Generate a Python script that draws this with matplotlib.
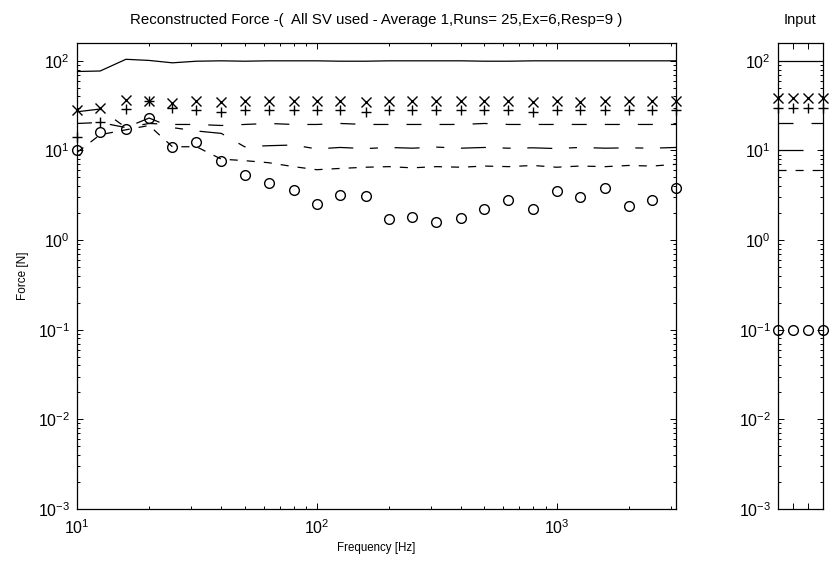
import numpy as np
import matplotlib.pyplot as plt

plt.rcParams['font.family'] = ['Liberation Sans', 'DejaVu Sans']
plt.rcParams['mathtext.default'] = 'regular'
plt.rcParams['lines.scale_dashes'] = False

# 1/3 octave band centre frequencies
freq = [10, 12.5, 16, 20, 25, 31.5, 40, 50, 63, 80, 100, 125, 160, 200, 250,
        315, 400, 500, 630, 800, 1000, 1250, 1600, 2000, 2500, 3150]

# reconstructed force per band [N]
f_solid = [76, 77, 104, 101, 95, 99, 100, 99, 100, 100, 100, 99, 99, 100, 100,
           100, 100, 99, 99, 100, 100, 100, 100, 100, 100, 100]
f_cross = [28, 30, 37, 36, 34, 36, 35, 36, 36, 36, 36, 36, 35, 36, 36,
           36, 36, 36, 36, 35, 36, 35, 36, 36, 36, 36]
f_plus = [14, 21, 29, 36, 30, 28, 27, 28, 28, 28, 28, 28, 27, 28, 28,
          28, 28, 28, 28, 27, 28, 28, 28, 28, 28, 28]
f_dash = [20, 20.5, 18, 20, 19.5, 19.5, 19, 19.5, 20, 19.5, 19.5, 20, 19.5, 19.5, 19.5,
          19.5, 19.5, 20, 19.5, 19.5, 19.5, 19.5, 19.5, 19.5, 19.5, 19.5]
f_dashdot = [27, 29, 18, 23, 18, 16.5, 15.5, 11, 11.3, 11.5, 10.4, 10.8, 10.5, 10.8, 10.6,
             10.9, 10.6, 10.8, 10.6, 10.7, 10.5, 10.8, 10.6, 10.7, 10.6, 10.8]
f_short = [9.5, 15, 17, 19, 11, 11, 8, 7.7, 7.3, 6.6, 6.1, 6.3, 6.5, 6.6, 6.4,
           6.6, 6.5, 6.7, 6.6, 6.8, 6.5, 6.7, 6.6, 6.8, 6.7, 7.0]
f_circle = [10, 16, 17.5, 23, 10.8, 12.3, 7.6, 5.3, 4.3, 3.6, 2.5, 3.2, 3.1, 1.7, 1.8,
            1.6, 1.75, 2.2, 2.8, 2.2, 3.5, 3.0, 3.8, 2.4, 2.8, 3.8]

# applied input levels
inp_x = [1, 2, 3, 4]
inp_solid = [100, 100, 100, 100]
inp_cross = [38, 38, 38, 38]
inp_plus = [30, 30, 30, 30]
inp_dash = [20, 20, 20, 20]
inp_dashdot = [10, 10, 10, 10]
inp_short = [6, 6, 6, 6]
inp_circle = [0.1, 0.1, 0.1, 0.1]

DASH = (0, (10.8, 13))
DASHDOT = (0, (18, 12, 5.8, 12))
SHORT = (0, (5.8, 6.5))
LW = 0.9
YLIM = (1e-3, 158)


def draw(ax, x, solid, cross, plus, dash, dashdot, short, circle):
    ax.plot(x, solid, color='k', lw=LW)
    ax.plot(x, dash, color='k', lw=LW, linestyle=DASH)
    ax.plot(x, dashdot, color='k', lw=LW, linestyle=DASHDOT)
    ax.plot(x, short, color='k', lw=LW, linestyle=SHORT)
    ax.plot(x, cross, 'x', color='k', ms=7, mew=1.0, clip_on=False)
    ax.plot(x, plus, '+', color='k', ms=7, mew=1.0, clip_on=False)
    ax.plot(x, circle, 'o', color='k', mfc='none', ms=7, mew=1.0, clip_on=False)


def style(ax):
    ax.set_yscale('log')
    ax.set_ylim(*YLIM)
    ax.tick_params(which='both', direction='in', top=True, right=True,
                   labelsize=11.5, width=0.7)
    ax.tick_params(which='major', length=4)
    ax.tick_params(which='minor', length=2)
    ax.tick_params(axis='y', pad=5)
    ax.tick_params(axis='x', pad=7)
    for s in ax.spines.values():
        s.set_linewidth(0.9)


fig = plt.figure(figsize=(8.32, 5.63), dpi=100)
ax = fig.add_axes([0.0925, 0.0959, 0.72, 0.8277])
ax2 = fig.add_axes([0.935, 0.0959, 0.054, 0.8277])

draw(ax, freq, f_solid, f_cross, f_plus, f_dash, f_dashdot, f_short, f_circle)
ax.set_xscale('log')
ax.set_xlim(10, 3150)
style(ax)
ax.set_title('Reconstructed Force -(  All SV used - Average 1,Runs= 25,Ex=6,Resp=9 )',
             fontsize=10.8, pad=14)
ax.set_xlabel('Frequency [Hz]', fontsize=8.3, labelpad=3)
ax.set_ylabel('Force [N]', fontsize=8.5, labelpad=6)

draw(ax2, inp_x, inp_solid, inp_cross, inp_plus, inp_dash, inp_dashdot, inp_short, inp_circle)
ax2.set_xlim(1, 4)
style(ax2)
ax2.set_xticks([2, 3])
ax2.set_xticklabels([])
ax2.set_title('Input', fontsize=10.5, pad=14)

fig.savefig('out.png', dpi=100)
